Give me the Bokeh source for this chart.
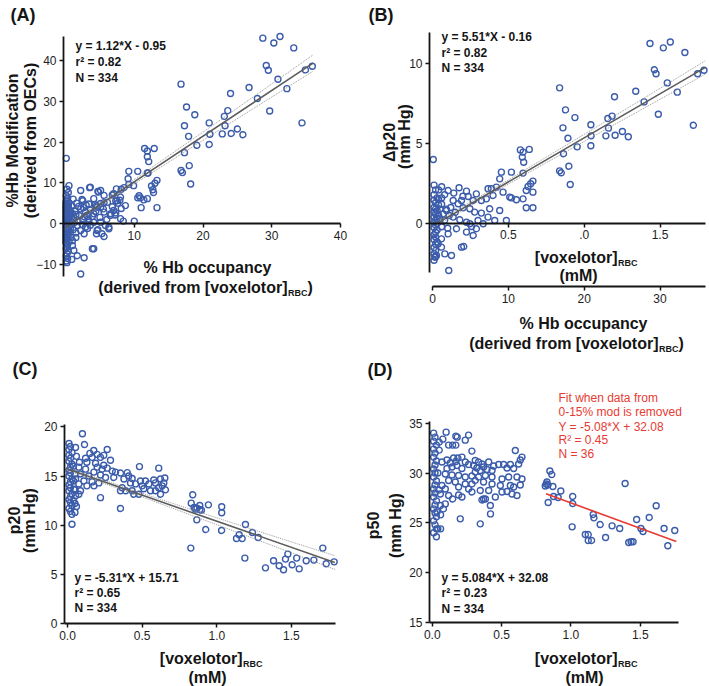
from bokeh.plotting import figure
from bokeh.models import Range1d, Label, FixedTicker, LinearAxis, PrintfTickFormatter
from bokeh.layouts import column, row
from bokeh.embed import file_html
from bokeh.resources import INLINE
import math

FONT = "Liberation Sans"
BLUE = "#3b5cab"
RED = "#e63a32"
INK = "#151515"

# ---------------- Panel A: % Hb occupancy vs %Hb modification ----------------
a_occ = [0.1,0.5,0.2,0.4,0.1,0.3,0.2,0.1,0.5,0.2,0.4,0.1,0.3,0.6,0.2,0.1,0.4,0.2,0.6,0.1,
         0.3,0.5,0.2,0.1,0.4,0.2,0.6,0.1,0.3,0.2,0.5,0.1,0.3,0.2,0.4,0.1,0.3,0.2,0.5,0.1,
         0.3,0.2,0.1,0.4,0.2,0.1,0.3,0.1,0.2,
         0.05,0.05,0.05,0.05,0.05,0.05,0.05,0.05,0.05,0.05,0.05,0.05,0.05,0.7,0.8,0.7,0.9,0.8,
         2.2,3.6,5.1,2.4,4.1,3.4,5.1,4.6,6.1,8.0, 7.5,8.7,7.0,5.6,4.1,2.9,2.2,6.5,8.0,10.0,
         8.4,3.4,4.1,5.1,5.8,2.9,2.2,4.6,6.3,5.3, 2.7,1.5,4.1,3.9,1.0,1.7,2.7,2.2,1.2,0.9,
         1.0,5.6,4.5,6.3,4.7,1.1,2.5,4.7,3.5,1.2, 1.5,1.8,2.0,2.5,2.8,3.1,3.3,1.4,1.9,2.6,
         3.0,1.3,1.7,2.4,3.6,3.9,4.4,1.6,1.1,1.5, 3.2,3.6,0.9,1.0,4.3,5.5,6.8,7.3,6.0,5.0,
         11.5,11.9,12.9,11.9,12.1,11.9,9.2,10.5,9.1,13.3, 13.0,12.5,9.9,8.5,7.4,8.1,6.8,10.7,10.5,10.9,
         11.4,11.9,11.0,13.3,12.8,12.7,7.3,7.6,7.9,8.1, 6.6,7.2,5.1,5.6,4.5,9.2,7.0,4.8,5.6,12.0,
         28.7,31.2,30.3,33.2,29.2,29.5,35.9,34.9,30.9,32.2, 29.7,34.4,26.7,27.9,24.0,23.6,23.1,23.2,25.0,24.1,
         22.8,25.8,20.9,21.0,20.9,16.8,17.6,18.8,17.3,17.9, 19.1,17.3,18.0,16.8,17.0,18.2]
a_mod = [16.0,9.3,8.4,7.6,6.8,6.2,5.8,5.5,5.1,4.7,4.3,4.0,3.7,3.4,3.1,2.8,2.5,2.2,1.9,1.6,
         1.3,1.0,0.7,0.4,0.1,-0.2,-0.5,-0.8,-1.1,-1.4,-1.7,-2.0,-2.3,-2.6,-2.9,-3.2,-3.6,-4.0,-4.4,-4.8,
         -5.2,-5.7,-6.2,-6.8,-7.4,-8.0,-8.6,-9.2,-9.6,
         5.0,4.2,3.4,2.6,1.8,1.0,0.2,-0.6,-1.4,-2.2,-3.0,-3.8,-4.6,2.9,0.6,-1.2,4.4,-3.4,
         8.1,8.9,8.1,5.9,6.1,4.8,4.9,4.0,5.2,6.5, 5.6,4.4,3.2,2.8,2.4,2.8,3.6,2.0,1.2,0.6,
         0.6,0.3,0.3,0.3,-0.5,-0.9,-1.7,-1.7,-1.3,-2.5, -2.5,-3.4,-6.2,-6.2,-5.4,-7.9,-8.4,-12.4,-6.6,-8.8,
         -4.2,-3.2,-2.5,-0.9,-1.5,6.0,5.6,7.9,8.8,1.5, 2.2,0.8,1.9,1.0,1.6,2.0,1.1,3.0,4.2,3.9,
         4.5,0.2,-0.5,-0.2,3.3,1.7,3.0,5.0,-1.5,-2.3, -1.2,-0.4,1.2,2.4,4.6,3.6,4.1,2.6,1.0,1.5,
         18.4,17.8,18.4,16.4,15.2,12.4,12.8,12.8,11.0,10.6, 9.9,9.2,9.3,8.8,8.5,8.4,7.0,6.8,6.3,6.3,
         5.8,6.1,3.9,3.9,7.6,8.3,5.5,5.0,5.7,3.7, 2.4,2.1,4.0,5.1,4.3,9.6,7.3,7.7,6.9,12.4,
         45.5,45.9,44.3,43.1,38.8,37.6,38.6,37.7,35.4,33.1, 27.6,24.7,33.4,30.7,31.9,27.7,26.3,24.0,23.2,22.1,
         22.0,21.8,24.7,21.9,19.4,34.2,28.6,26.7,24.0,21.4, 19.2,17.4,14.2,13.0,12.5,9.7]
a_fit = (1.12, -0.95)          # slope, intercept
a_fit_x = (0.0, 36.0)
a_band_x = [0, 5, 10, 20, 30, 36]
a_band_hw = [0.5, 0.45, 0.55, 1.0, 1.6, 2.0]

# ---------------- Panel B: [voxelotor]RBC (mM) vs delta p20 ----------------
b_conc = [0.005,0.01,0.02,0.01,0.03,0.01,0.02,0.04,0.01,0.02, 0.03,0.01,0.02,0.04,0.01,0.03,0.02,0.01,0.03,0.02,
          0.01,0.03,0.02,0.01,0.02,0.01,0.03,0.02,0.01,0.02, 0.01,0.02,0.01,0.04,0.05,0.06,0.07,0.05,0.06,0.08,
          0.09,0.04,0.06,
          0.12,0.15,0.08,0.10,0.14,0.20,0.06,0.11,
          0.579,0.597,0.638,0.592,0.601,0.454,0.52,0.597,0.443,0.662, 0.647,0.63,0.618,0.662,0.421,0.388,0.366,0.465,0.399,0.509,
          0.52,0.553,0.597,0.618,0.662,0.355,0.322,0.289,0.268,0.377, 0.443,0.224,0.175,0.235,0.191,0.136,0.103,0.169,0.202,0.246,
          0.092,0.278,0.322,0.366,0.41,0.487,0.136,0.18,0.224,0.246, 0.257,0.3,0.334,0.158,0.224,0.289,0.103,0.268,0.059,0.037,
          0.059,0.191,0.206,0.081,0.125,0.026,0.015,0.107,
          1.434,1.568,1.522,1.664,1.463,1.474,1.79,1.748,1.548,1.614, 1.34,1.395,1.489,1.72,0.838,1.2,0.877,0.939,0.86,1.184,
          1.156,1.044,1.16,1.046,1.044,1.143,1.204,1.252,1.291,0.893, 0.954,0.864,0.838,0.849,0.899,0.908]
b_dp20 = [4.0,2.4,2.1,1.8,1.6,1.45,1.3,1.15,1.0,0.9, 0.8,0.7,0.6,0.5,0.4,0.3,0.2,0.1,0.0,-0.1,
          -0.25,-0.4,-0.55,-0.7,-0.85,-1.0,-1.15,-1.3,-1.5,-1.7, -1.9,-2.1,-2.3,1.5,0.9,1.2,0.6,0.3,-0.2,1.8,
          0.9,2.1,2.3,
          1.0,0.7,0.2,-0.3,1.9,1.7,1.6,0.5,
          4.6,4.46,4.63,4.15,3.83,3.21,3.21,3.15,2.79,2.65, 2.48,2.31,2.06,1.96,2.27,2.17,2.17,1.96,1.75,1.65,
          1.6,1.48,1.54,0.98,0.98,1.54,1.44,1.85,1.44,0.92, 0.81,2.02,2.23,1.69,1.44,1.44,2.06,1.23,0.98,0.92,
          0.81,0.71,0.65,0.4,0.19,0.19,0.4,0.23,0.08,-0.02, -0.19,0.19,-0.02,-0.33,-0.54,-0.33,-0.65,-0.75,-0.96,-1.27,
          -1.48,-1.48,-1.44,-1.9,-2.0,-2.0,-2.1,-2.94,
          11.25,11.35,10.98,10.69,9.61,9.36,9.58,9.36,8.79,8.21, 8.27,7.6,6.83,6.14,8.48,7.92,7.1,6.62,5.98,6.71,
          6.56,6.17,5.96,5.48,4.86,5.48,5.52,5.75,5.42,5.33, 4.79,4.36,3.29,3.17,3.58,2.44]
b_fit = (5.51, -0.16)
b_fit_x = (0.03, 1.8)
b_band_x = [0.0, 0.5, 1.0, 1.5, 1.8]
b_band_hw = [0.12, 0.13, 0.22, 0.34, 0.42]
b_occ_ticks = [0, 10, 20, 30]

# ---------------- Panel C: [voxelotor]RBC (mM) vs p20 ----------------
c_conc = [0.01,0.02,0.01,0.03,0.01,0.02,0.01,0.03,0.02,0.01, 0.02,0.01,0.03,0.02,0.01,0.02,0.01,0.03,0.02,0.01,
          0.02,0.03,0.01,0.02,0.03,
          0.04,0.05,0.06,0.05,0.03,0.04,0.05,0.04,0.06,0.05,
          0.1,0.054,0.114,0.176,0.266,0.15,0.199,0.243,0.165,0.221, 0.121,0.288,0.08,0.13,0.188,0.243,0.482,0.611,0.076,0.121,
          0.199,0.232,0.266,0.3,0.322,0.355,0.4,0.41,0.087,0.143, 0.177,0.221,0.255,0.31,0.378,0.433,0.054,0.11,0.165,0.21,
          0.489,0.522,0.578,0.623,0.652,0.422,0.456,0.5,0.545,0.589, 0.645,0.076,0.13,0.177,0.043,0.087,0.366,0.389,0.355,0.433,
          0.444,0.478,0.511,0.556,0.589,0.623,0.634,0.611,0.656,0.221, 0.355,0.054,0.076,
          0.839,0.829,0.848,0.857,0.868,0.886,0.886,0.897,0.944,1.033, 1.033,0.866,0.926,1.032,0.826,1.192,1.15,1.132,1.17,1.239,
          1.277,1.188,1.71,1.476,1.46,1.535,1.38,1.599,1.65,1.786, 1.733,1.326,1.418,1.505,1.447,1.552]
c_p20 = [18.3,18.0,17.7,17.4,17.1,16.8,16.5,16.2,15.9,15.6, 15.3,15.0,14.7,14.4,14.1,13.8,13.5,13.2,12.9,12.6,
         12.3,12.0,11.7,11.4,11.1,
         12.5,12.2,11.9,11.3,10.1,16.0,15.2,14.5,17.0,13.6,
         19.3,17.9,18.2,17.6,17.7,17.3,17.2,17.1,16.9,16.9, 16.8,16.6,16.4,16.4,16.3,16.1,15.96,15.8,15.9,15.7,
         15.9,15.7,15.8,15.5,15.4,15.3,15.35,15.0,15.2,15.0, 15.4,15.1,14.85,14.85,14.7,14.75,14.7,14.5,14.4,14.3,
         14.5,14.5,14.6,14.7,14.8,14.3,14.2,14.0,14.2,14.3, 14.3,14.2,14.0,14.0,13.65,13.5,13.8,13.5,13.5,13.5,
         13.15,13.15,13.7,13.5,13.5,13.15,14.0,13.8,13.6,12.8, 11.7,13.0,13.15,
         13.09,12.24,11.8,11.63,11.73,12.0,11.59,11.53,12.07,11.87, 11.26,10.54,9.56,9.46,7.67,10.07,9.02,8.64,8.64,9.25,
         8.74,6.65,7.67,7.06,6.55,6.65,6.38,6.38,6.45,6.27, 6.07,5.66,5.87,5.97,5.46,5.56]
c_fit = (-5.31, 15.71)
c_fit_x = (0.0, 1.79)
c_band_x = [0.0, 0.5, 1.0, 1.5, 1.79]
c_band_hw = [0.15, 0.18, 0.35, 0.55, 0.7]

# ---------------- Panel D: [voxelotor]RBC (mM) vs p50 ----------------
d_conc = [0.01,0.02,0.01,0.03,0.01,0.02,0.01,0.03,0.02,0.01, 0.02,0.01,0.03,0.02,0.01,0.02,0.01,0.03,0.02,0.01,
          0.02,0.03,0.01,0.02,0.03,0.01,
          0.04,0.06,0.03,0.08,0.06,0.05,0.04,0.05,
          0.1,0.17,0.18,0.262,0.076,0.05,0.238,0.118,0.147,0.17, 0.286,0.599,0.214,0.154,0.185,0.106,0.07,0.13,0.647,0.635,
          0.623,0.31,0.238,0.17,0.262,0.334,0.358,0.37,0.322,0.298, 0.407,0.443,0.479,0.515,0.563,0.587,0.539,0.431,0.395,0.346,
          0.31,0.142,0.178,0.106,0.214,0.094,0.142,0.19,0.238,0.286, 0.334,0.383,0.431,0.503,0.551,0.611,0.647,0.118,0.166,0.238,
          0.286,0.31,0.37,0.431,0.491,0.563,0.587,0.635,0.07,0.094, 0.19,0.262,0.346,0.407,0.503,0.575,0.611,0.539,0.058,0.118,
          0.19,0.214,0.286,0.455,0.419,0.37,0.383,0.358,0.094,0.058, 0.034,0.202,0.346,0.42,0.147,
          0.848,0.862,0.822,0.815,0.827,0.835,0.87,0.927,0.836,0.875, 0.908,1.013,1.013,1.009,1.161,1.166,1.211,1.297,1.352,1.25,
          1.104,1.125,1.125,1.149,1.391,1.474,1.505,1.52,1.565,1.615, 1.417,1.434,1.448,1.672,1.749,1.699]
d_p50 = [34.0,33.6,33.2,32.8,32.4,32.0,31.6,31.2,30.8,30.4, 30.0,29.6,29.2,28.8,28.4,28.0,27.6,27.2,26.8,26.4,
         26.0,25.6,25.2,24.8,24.4,24.0,
         24.4,24.4,23.6,26.4,25.8,32.3,30.0,28.3,
         34.1,33.7,33.6,33.8,33.4,33.1,33.3,32.8,32.8,32.8, 32.2,32.26,31.6,31.5,31.5,31.3,31.1,31.0,31.6,31.3,
         30.9,31.26,31.1,31.15,30.85,31.1,30.9,30.6,30.5,30.75, 31.1,30.7,30.85,30.85,30.85,30.45,30.5,30.25,30.35,30.25,
         30.1,30.6,30.75,30.45,30.45,29.9,29.8,29.75,29.6,29.7, 29.6,29.75,29.6,29.4,29.6,29.6,29.4,29.25,29.1,28.9,
         28.9,29.25,29.1,28.9,28.75,28.75,28.6,28.8,28.75,28.4, 28.6,28.4,28.25,28.25,28.1,27.9,27.74,28.15,27.9,27.74,
         27.8,27.6,28.1,27.6,26.74,27.4,27.4,27.3,26.9,26.74, 26.1,25.4,24.9,25.9,27.4,
         30.2,29.85,28.9,28.7,29.1,28.8,28.65,28.2,27.04,27.65, 27.55,27.65,26.94,24.6,25.84,25.5,24.83,24.7,24.43,23.53,
         23.83,23.83,23.23,23.23,28.95,25.34,24.43,24.13,25.54,26.71, 23.03,23.1,23.1,24.43,24.23,22.7]
d_red_fit = (-5.08, 32.08)
d_red_fit_x = (0.82, 1.76)

assert len(a_occ) == len(a_mod)
assert len(b_conc) == len(b_dp20)
assert len(c_conc) == len(c_p20)
assert len(d_conc) == len(d_p50)


def make_fig(W, H, fl, fr, ft, fb, xr, yr):
    """The data box (xr, yr) sits at pixels fl..fr, ft..fb; the ranges are
    widened so the plotting frame covers the whole figure (no clipping)."""
    sx = (xr[1] - xr[0]) / (fr - fl)
    sy = (yr[1] - yr[0]) / (fb - ft)
    X0, X1 = xr[0] - fl * sx, xr[0] + (W - fl) * sx
    Y1, Y0 = yr[1] + ft * sy, yr[1] - (H - ft) * sy
    p = figure(width=W, height=H, x_range=Range1d(X0, X1), y_range=Range1d(Y0, Y1),
               min_border=0, min_border_left=0, min_border_right=0,
               min_border_top=0, min_border_bottom=0,
               output_backend="svg", toolbar_location=None, title=None)
    p.xgrid.visible = False
    p.ygrid.visible = False
    p.outline_line_color = None
    p.border_fill_color = "white"
    p.background_fill_color = "white"

    def m(lx, ly):
        return (X0 + lx * sx, Y1 - ly * sy)
    return p, m


def style_axis(ax, ticks, fmt=None):
    ax.ticker = FixedTicker(ticks=ticks)
    if fmt:
        ax.formatter = PrintfTickFormatter(format=fmt)
    ax.axis_label = None
    ax.axis_line_color = INK
    ax.axis_line_width = 1.8
    ax.major_tick_line_color = INK
    ax.major_tick_line_width = 1.5
    ax.major_tick_in = 0
    ax.major_tick_out = 4
    ax.minor_tick_line_color = None
    ax.major_label_text_font = FONT
    ax.major_label_text_font_size = "12px"
    ax.major_label_text_color = "#1e1e1e"
    ax.major_label_standoff = 3


def pts(p, xs, ys):
    p.scatter(xs, ys, marker="circle", size=6, fill_color=None,
              line_color=BLUE, line_width=1.4)


def fit(p, coef, xr, bx=None, bhw=None, color="#5c5c5c", width=1.6):
    s, c = coef
    if bx:
        p.line(bx, [s * x + c + h for x, h in zip(bx, bhw)], line_color="#8c8c8c",
               line_width=0.9, line_dash="1 1")
        p.line(bx, [s * x + c - h for x, h in zip(bx, bhw)], line_color="#8c8c8c",
               line_width=0.9, line_dash="1 1")
    p.line(list(xr), [s * x + c for x in xr], line_color=color, line_width=width)


def txt(p, m, lx, ly, s, size, bold=False, color=INK, align="left", angle=0.0):
    x, y = m(lx, ly)
    p.add_layout(Label(x=x, y=y, text=s, text_font=FONT, text_font_size=f"{size}px",
                       text_font_style="bold" if bold else "normal", text_color=color,
                       text_align=align, text_baseline="middle", angle=angle))


def sub_title(p, m, x0, y, main, sub, tail=""):
    txt(p, m, x0, y, main, 16, True, align="right")
    txt(p, m, x0 + 0.5, y + 5, sub, 9, True, align="left")
    if tail:
        txt(p, m, x0 + 20, y, tail, 16, True, align="left")


def stats(p, m, x, ys, lines):
    for yy, s in zip(ys, lines):
        txt(p, m, x, yy, s, 12, True)


ROT = math.pi / 2

# ---- A ----
A_X, A_Y = (-0.3, 40.0), (-13.0, 45.9)
pa, ma = make_fig(355, 356, 63, 340, 36, 276, A_X, A_Y)
style_axis(pa.xaxis[0], [10, 20, 30, 40])
pa.xaxis[0].fixed_location = 0
pa.xaxis[0].bounds = A_X
style_axis(pa.yaxis[0], [-10, 0, 10, 20, 30, 40])
pa.yaxis[0].fixed_location = A_X[0]
pa.yaxis[0].bounds = A_Y
pts(pa, a_occ, a_mod)
fit(pa, a_fit, a_fit_x, a_band_x, a_band_hw)
txt(pa, ma, 10, 14, "(A)", 18, True)
txt(pa, ma, 12, 140, "%Hb Modification", 16, True, align="center", angle=ROT)
txt(pa, ma, 30, 140, "(derived from OECs)", 16, True, align="center", angle=ROT)
txt(pa, ma, 207, 267, "% Hb occupancy", 16, True, align="center")
sub_title(pa, ma, 287, 287, "(derived from [voxelotor]", "RBC", ")")
stats(pa, ma, 75, [45, 61, 77], ["y = 1.12*X - 0.95", "r\u00b2 = 0.82", "N = 334"])

# ---- B ----
B_X, B_Y = (-0.02, 1.80), (-3.94, 11.94)
pb, mb = make_fig(354, 356, 74, 350, 32, 286, B_X, B_Y)
style_axis(pb.xaxis[0], [0.5, 1.0, 1.5])
pb.xaxis[0].major_label_overrides = {1: ".0"}
pb.xaxis[0].fixed_location = 0
pb.xaxis[0].bounds = B_X
style_axis(pb.yaxis[0], [0, 5, 10])
pb.yaxis[0].fixed_location = B_X[0]
pb.yaxis[0].bounds = (-3.06, 11.94)
pb.extra_x_ranges = {"occ": Range1d(-0.4 - 74 * 36.4 / 276, 36.0 + 4 * 36.4 / 276)}
ax2 = LinearAxis(x_range_name="occ")
style_axis(ax2, b_occ_ticks)
ax2.fixed_location = B_Y[0]
ax2.bounds = (0, 36.0)
pb.add_layout(ax2, "below")
pts(pb, b_conc, b_dp20)
fit(pb, b_fit, b_fit_x, b_band_x, b_band_hw)
txt(pb, mb, 13, 14, "(B)", 18, True)
txt(pb, mb, 33.5, 142, "\u0394p20", 16, True, align="center", angle=ROT)
txt(pb, mb, 49, 136, "(mm Hg)", 16, True, align="center", angle=ROT)
sub_title(pb, mb, 262, 257, "[voxelotor]", "RBC")
txt(pb, mb, 223, 275, "(mM)", 16, True, align="center")
txt(pb, mb, 228, 323, "% Hb occupancy", 16, True, align="center")
sub_title(pb, mb, 303, 343, "(derived from [voxelotor]", "RBC", ")")
stats(pb, mb, 86, [36, 52, 67], ["y = 5.51*X - 0.16", "r\u00b2 = 0.82", "N = 334"])

# ---- C ----
C_X, C_Y = (-0.02, 1.795), (0.0, 20.24)
pc, mc = make_fig(355, 330, 64, 335, 68, 267, C_X, C_Y)
style_axis(pc.xaxis[0], [0, 0.5, 1.0, 1.5], "%.1f")
pc.xaxis[0].fixed_location = C_Y[0]
pc.xaxis[0].bounds = C_X
style_axis(pc.yaxis[0], [0, 5, 10, 15, 20])
pc.yaxis[0].fixed_location = C_X[0]
pc.yaxis[0].bounds = C_Y
pts(pc, c_conc, c_p20)
fit(pc, c_fit, c_fit_x, c_band_x, c_band_hw)
txt(pc, mc, 12, 12, "(C)", 18, True)
txt(pc, mc, 13.5, 164, "p20", 16, True, align="center", angle=ROT)
txt(pc, mc, 29, 164, "(mm Hg)", 16, True, align="center", angle=ROT)
sub_title(pc, mc, 242, 302, "[voxelotor]", "RBC")
txt(pc, mc, 207, 321, "(mM)", 16, True, align="center")
stats(pc, mc, 74, [221, 236, 251], ["y = -5.31*X + 15.71", "r\u00b2 = 0.65", "N = 334"])

# ---- D ----
D_X, D_Y = (-0.02, 1.776), (15.0, 35.17)
pd_, md = make_fig(354, 330, 74, 323, 65, 266, D_X, D_Y)
style_axis(pd_.xaxis[0], [0, 0.5, 1.0, 1.5], "%.1f")
pd_.xaxis[0].fixed_location = D_Y[0]
pd_.xaxis[0].bounds = D_X
style_axis(pd_.yaxis[0], [15, 20, 25, 30, 35])
pd_.yaxis[0].fixed_location = D_X[0]
pd_.yaxis[0].bounds = D_Y
pts(pd_, d_conc, d_p50)
fit(pd_, d_red_fit, d_red_fit_x, color=RED, width=1.6)
txt(pd_, md, 12, 13, "(D)", 18, True)
txt(pd_, md, 18, 169, "p50", 16, True, align="center", angle=ROT)
txt(pd_, md, 40, 169, "(mm Hg)", 16, True, align="center", angle=ROT)
sub_title(pd_, md, 262, 302, "[voxelotor]", "RBC")
txt(pd_, md, 229, 321, "(mM)", 16, True, align="center")
stats(pd_, md, 86, [221, 236, 252], ["y = 5.084*X + 32.08", "r\u00b2 = 0.23", "N = 334"])
for yy, s in zip([41, 55, 70, 83, 97],
                 ["Fit when data from", "0-15% mod is removed", "Y = -5.08*X + 32.08",
                  "R\u00b2 = 0.45", "N = 36"]):
    txt(pd_, md, 203, yy, s, 12, False, color=RED)

layout = column(row(pa, pb), row(pc, pd_))
open("out.html", "w").write(file_html(layout, INLINE))
